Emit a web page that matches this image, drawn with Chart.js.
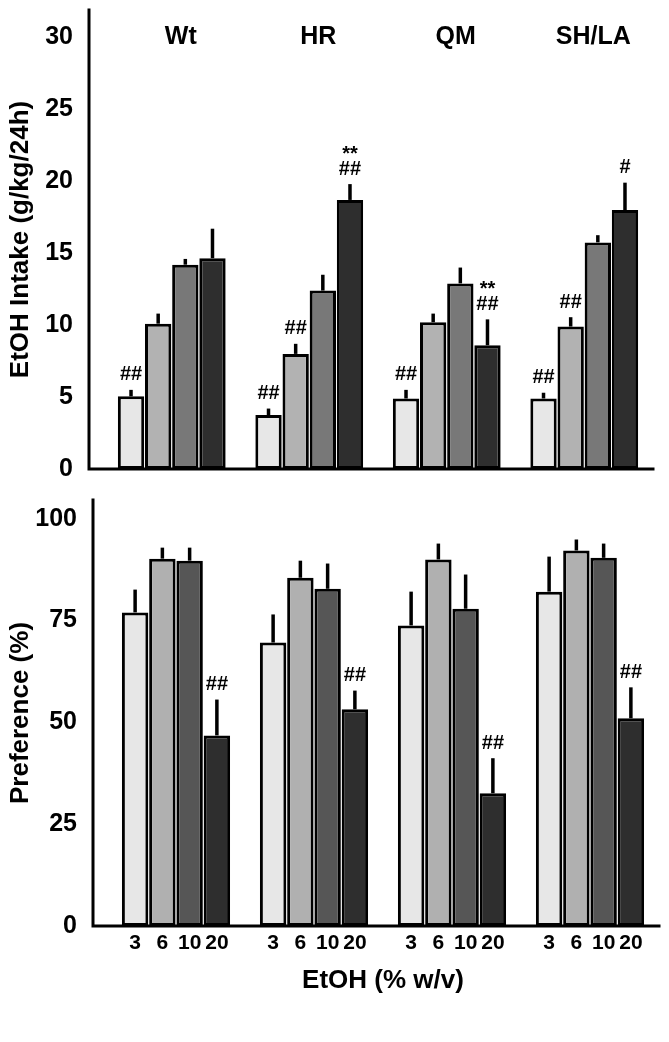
<!DOCTYPE html>
<html>
<head>
<meta charset="utf-8">
<script src="https://cdn.jsdelivr.net/npm/chart.js@4.4.1/dist/chart.umd.min.js"></script>
<style>
  body { margin: 0; background: #fff; }
  #intake-wrap { position: absolute; left: 0; top: 0; width: 669px; height: 480px; }
  #preference-wrap { position: absolute; left: 0; top: 480px; width: 669px; height: 562px; }
</style>
</head>
<body>
<div id="intake-wrap"><canvas id="intake-chart"></canvas></div>
<div id="preference-wrap"><canvas id="preference-chart"></canvas></div>
<script>
const groups = ["Wt", "HR", "QM", "SH/LA"];
const concentrations = ["3", "6", "10", "20"];
const intakeTicks = [0, 5, 10, 15, 20, 25, 30];
const prefTicks = [0, 25, 50, 75, 100];

// EtOH intake (g/kg/24h), one array per concentration, values per group
const intake3 = [5.05, 3.75, 4.9, 4.9];
const intake6 = [10.1, 8.0, 10.2, 9.9];
const intake10 = [14.2, 12.4, 12.9, 15.75];
const intake20 = [14.65, 18.7, 8.6, 18.0];
const intake3Err = [0.45, 0.45, 0.6, 0.4];
const intake6Err = [0.7, 0.7, 0.6, 0.65];
const intake10Err = [0.4, 1.1, 1.1, 0.5];
const intake20Err = [2.05, 1.1, 1.8, 1.9];
const intake3Marks = [["##"], ["##"], ["##"], ["##"]];
const intake6Marks = [[], ["##"], [], ["##"]];
const intake10Marks = [[], [], [], []];
const intake20Marks = [[], ["**", "##"], ["**", "##"], ["#"]];

// Preference (%)
const pref3 = [77, 69.6, 73.8, 82.1];
const pref6 = [90.2, 85.5, 90, 92.2];
const pref10 = [89.7, 82.8, 77.9, 90.4];
const pref20 = [46.8, 53.2, 32.6, 51];
const pref3Err = [5.6, 6.9, 8.3, 8.6];
const pref6Err = [2.7, 4.2, 3.9, 2.7];
const pref10Err = [3.2, 6.2, 8.4, 3.5];
const pref20Err = [8.8, 4.6, 8.6, 7.6];
const pref20Marks = [["##"], ["##"], ["##"], ["##"]];
const noMarks = [[], [], [], []];

const FONT = "'Liberation Sans', Arial, sans-serif";

// draws upper error bars, significance marks, L-shaped axis and extra labels
const figurePlugin = {
  id: "figure",
  afterDatasetsDraw(chart, args, opts) {
    const ctx = chart.ctx;
    const area = chart.chartArea;
    const yScale = chart.scales.y;
    const xScale = chart.scales.x;
    ctx.save();
    ctx.strokeStyle = "#000";
    ctx.fillStyle = "#000";
    ctx.textAlign = "center";
    ctx.textBaseline = "middle";

    chart.data.datasets.forEach((ds, d) => {
      const meta = chart.getDatasetMeta(d);
      meta.data.forEach((bar, i) => {
        const top = yScale.getPixelForValue(ds.data[i] + ds.errors[i]);
        ctx.lineWidth = 3.5;
        ctx.lineCap = "butt";
        ctx.beginPath();
        ctx.moveTo(bar.x, bar.y);
        ctx.lineTo(bar.x, top);
        ctx.stroke();

        const marks = ds.marks[i];
        ctx.font = "bold 20px " + FONT;
        for (let k = marks.length - 1, n = 0; k >= 0; k--, n++) {
          const my = top - 15 - n * 20;
          ctx.fillText(marks[k], bar.x, marks[k] === "**" ? my + 5 : my);
        }

        if (opts.concLabels) {
          ctx.font = "bold 21px " + FONT;
          ctx.fillText(ds.label, bar.x, area.bottom + 17);
        }
      });
    });

    // axis lines
    const ax = area.left - opts.axisGap;
    ctx.lineWidth = 3;
    ctx.lineCap = "square";
    ctx.beginPath();
    ctx.moveTo(ax, area.top);
    ctx.lineTo(ax, area.bottom);
    ctx.lineTo(area.right, area.bottom);
    ctx.stroke();

    if (opts.groupLabels) {
      ctx.font = "bold 25px " + FONT;
      chart.data.labels.forEach((g, i) => {
        ctx.fillText(g, xScale.getPixelForValue(i) + 9, opts.groupY);
      });
    }
    ctx.restore();
  }
};

function makeDatasets(values, errors, marks, colors) {
  return concentrations.map((c, i) => ({
    label: c,
    data: values[i],
    errors: errors[i],
    marks: marks[i],
    backgroundColor: colors[i],
    borderColor: "#000",
    borderWidth: 3,
    borderSkipped: false,
  }));
}

function yAxis(max, tickValues, width, title) {
  return {
    min: 0,
    max: max,
    afterFit: (s) => {
      s.width = width;
      s.paddingTop = 0;
      s.paddingBottom = 0;
    },
    afterBuildTicks: (s) => { s.ticks = tickValues.map((v) => ({ value: v })); },
    grid: { display: false },
    border: { display: false },
    ticks: {
      padding: 22,
      color: "#000",
      font: { family: FONT, size: 25, weight: "bold" },
    },
    title: {
      display: true,
      text: title,
      color: "#000",
      padding: { top: 5 },
      font: { family: FONT, size: 26, weight: "bold" },
    },
  };
}

new Chart(document.getElementById("intake-chart"), {
  type: "bar",
  data: {
    labels: groups,
    datasets: makeDatasets(
      [intake3, intake6, intake10, intake20],
      [intake3Err, intake6Err, intake10Err, intake20Err],
      [intake3Marks, intake6Marks, intake10Marks, intake20Marks],
      ["#e7e7e7", "#b2b2b2", "#787878", "#2e2e2e"]
    ),
  },
  options: {
    responsive: true,
    maintainAspectRatio: false,
    animation: false,
    layout: { padding: { top: 10, right: 16, bottom: 11, left: 0 } },
    datasets: { bar: { categoryPercentage: 0.79, barPercentage: 0.97 } },
    plugins: {
      legend: { display: false },
      tooltip: { enabled: false },
      figure: { axisGap: 14, groupLabels: true, groupY: 37 },
    },
    scales: {
      x: { display: false },
      y: yAxis(31.9, intakeTicks, 103, "EtOH Intake (g/kg/24h)"),
    },
  },
  plugins: [figurePlugin],
});

new Chart(document.getElementById("preference-chart"), {
  type: "bar",
  data: {
    labels: groups,
    datasets: makeDatasets(
      [pref3, pref6, pref10, pref20],
      [pref3Err, pref6Err, pref10Err, pref20Err],
      [noMarks, noMarks, noMarks, pref20Marks],
      ["#e7e7e7", "#b0b0b0", "#565656", "#2e2e2e"]
    ),
  },
  options: {
    responsive: true,
    maintainAspectRatio: false,
    animation: false,
    layout: { padding: { top: 20, right: 10, bottom: 0, left: 0 } },
    datasets: { bar: { categoryPercentage: 0.79, barPercentage: 0.97 } },
    plugins: {
      legend: { display: false },
      tooltip: { enabled: false },
      figure: { axisGap: 14, concLabels: true },
    },
    scales: {
      x: {
        afterFit: (s) => { s.height = 116; },
        grid: { display: false },
        border: { display: false },
        ticks: { display: false },
        title: {
          display: true,
          text: "EtOH (% w/v)",
          color: "#000",
          padding: { bottom: 46 },
          font: { family: FONT, size: 26, weight: "bold" },
        },
      },
      y: yAxis(104.6, prefTicks, 107, "Preference (%)"),
    },
  },
  plugins: [figurePlugin],
});
</script>
</body>
</html>
